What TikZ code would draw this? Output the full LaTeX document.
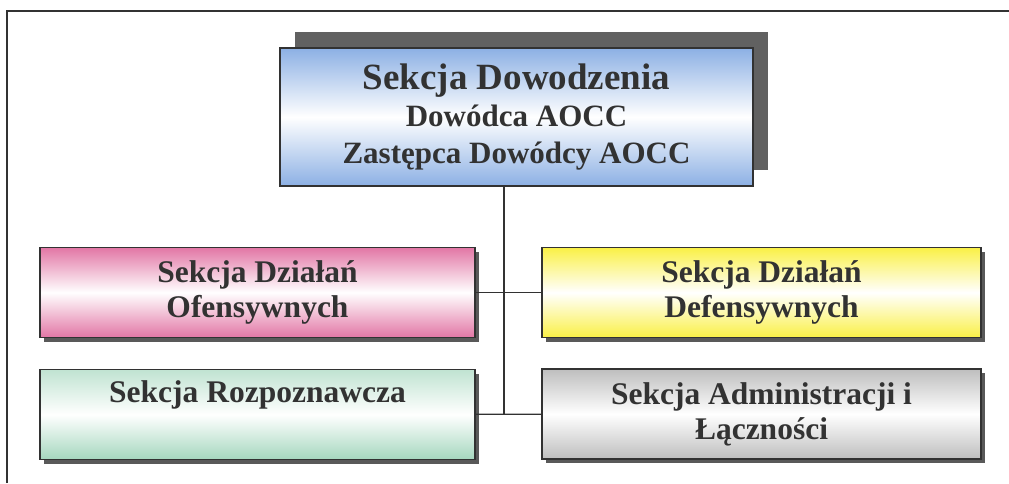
\documentclass[tikz,border=0pt]{standalone}
\usepackage{fontspec}
\setmainfont{Liberation Serif}
\usepackage{xcolor}
\usepackage{tikz}
\usetikzlibrary{shadows}

\definecolor{cmdblue}{RGB}{140,176,228}
\definecolor{offpink}{RGB}{226,118,165}
\definecolor{defyellow}{RGB}{250,240,70}
\definecolor{recgreen}{RGB}{165,215,190}
\definecolor{admgray}{RGB}{190,190,190}
\definecolor{inkgray}{RGB}{50,50,50}

\begin{document}
\begin{tikzpicture}[x=1pt,y=-1pt,
    frame line/.style={draw=inkgray,line width=1.4pt},
    link/.style={draw=inkgray,line width=1.3pt},
    cmd node/.style={draw=inkgray,line width=1.3pt,minimum width=473pt,minimum height=138pt,
      inner sep=0pt,align=center,text=inkgray,font=\fontsize{31}{36.5}\selectfont\bfseries,
      drop shadow={shadow xshift=15pt,shadow yshift=16pt,fill=black!62,opacity=1}},
    sec node/.style={draw=inkgray,line width=1.3pt,minimum width=437pt,minimum height=90pt,
      inner sep=0pt,align=center,text=inkgray,font=\fontsize{31.5}{35}\selectfont\bfseries,
      drop shadow={shadow xshift=4pt,shadow yshift=-4pt,fill=black!65,opacity=1}}]
  \useasboundingbox (0,0) rectangle (1009,483);
  \draw[frame line] (7,483) -- (7,11) -- (1009,11);

  \node[cmd node,top color=cmdblue,bottom color=cmdblue,middle color=white] (cmd) at (516.5,117)
    {{\fontsize{37}{38}\selectfont Sekcja Dowodzenia}\\[1pt]
     Dowódca AOCC\\
     Zastępca Dowódcy AOCC};

  \node[sec node,minimum width=435pt,top color=offpink,bottom color=offpink,middle color=white] (off) at (257.5,292.5)
    {Sekcja Działań\\Ofensywnych};
  \node[sec node,minimum width=439pt,top color=defyellow,bottom color=defyellow,middle color=white] (def) at (761.5,292.5)
    {Sekcja Działań\\Defensywnych};
  \node[sec node,minimum width=435pt,top color=recgreen!70,bottom color=recgreen,middle color=white] (rec) at (257.5,414.5)
    {Sekcja Rozpoznawcza\\\strut};
  \node[sec node,minimum width=439pt,top color=admgray,bottom color=admgray,middle color=white] (adm) at (761.5,414)
    {Sekcja Administracji i\\Łączności};

  \coordinate (spine) at (504,414.5);
  \path[link]
    (cmd.south -| spine) edge (spine)
    (off) edge (def)
    (rec) edge (adm);
\end{tikzpicture}
\end{document}
